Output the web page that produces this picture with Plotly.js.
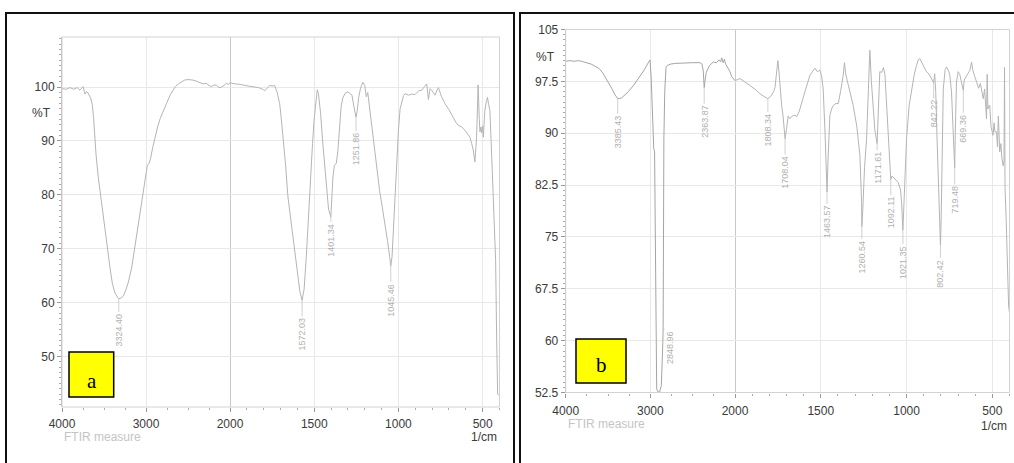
<!DOCTYPE html>
<html>
<head>
<meta charset="utf-8">
<script src="https://cdn.plot.ly/plotly-3.0.1.min.js"></script>
<style>html,body{margin:0;padding:0;background:#fff;}#chart{width:1014px;height:463px;}</style>
</head>
<body>
<div id="chart"></div>
<script>
// ---------- Spectrum a ----------
const wavenumberA = [4000,3950,3905,3860,3820,3786,3765,3750,3735,3726,3710,3690,3660,3640,3625,3615,3595,3570,3527,3490,3470,3429,3400,3370,3340,3324.4,3300,3270,3240,3210,3170,3140,3110,3080,3051,3020,3000,2985,2965,2945,2920,2893,2860,2830,2790,2754,2710,2680,2650,2615,2580,2540,2500,2476,2440,2400,2357,2320,2280,2250,2220,2190,2158,2130,2100,2070,2040,2020,2000,1970,1940,1893,1860,1830,1800,1794,1780,1764,1750,1735,1720,1705,1695,1685,1670,1656,1640,1626,1610,1596,1585,1572.03,1560,1547,1535,1521,1510,1501,1490,1482,1475,1462,1450,1438,1425,1415,1401.34,1395,1389,1380,1369,1360,1349,1340,1329,1315,1300,1285,1276,1265,1251.86,1245,1236,1225,1211,1200,1191,1182,1171,1155,1141,1125,1112,1100,1082,1065,1052,1045.46,1038,1030,1020,1010,1000,990,981,970,961,940,920,902,880,862,845,832,822,812,800,783,770,763,745,723,700,674,660,645,625,605,590,576,565,556,546,536,530,527,520,516,510,506,500,496,490,487,478,471,465,457,443,431,423,417,411,405,400];
const transmittanceA = [99.7,99.6,99.9,99.6,99.9,99.4,99.8,100.1,99.2,98.7,99.2,98.9,98.0,96.8,94.5,91.5,87.5,83.5,78.0,74.0,71.5,66.5,63.5,61.8,61.0,60.7,60.8,61.2,62.3,63.8,66.5,69.5,72.5,75.5,78.5,82.0,84.3,85.4,85.8,86.8,88.8,90.8,92.7,94.2,95.8,97.0,98.6,99.4,100.1,100.6,101.0,101.3,101.4,101.4,101.3,101.1,100.9,100.6,100.7,100.3,100.1,100.4,100.3,99.9,100.0,100.4,100.7,100.5,100.8,100.6,100.5,100.2,100.1,99.9,99.5,99.3,99.8,100.3,100.2,100.3,99.0,96.9,94.0,90.7,85.5,79.6,75.5,72.2,68.5,64.7,62.0,60.4,62.5,68.5,76.0,84.5,89.5,93.8,97.8,99.5,98.8,95.1,90.0,85.8,80.5,77.3,75.9,79.0,83.3,85.5,85.8,88.0,93.8,96.5,98.1,98.9,99.1,98.8,98.5,96.5,94.4,95.5,98.1,99.8,100.9,100.3,98.2,99.0,96.0,91.5,87.6,84.0,80.8,78.5,75.3,71.5,68.5,66.8,68.5,73.5,80.0,86.0,92.0,96.0,97.2,98.4,98.8,98.5,98.7,98.6,99.3,99.4,100.1,100.6,97.7,99.7,99.3,98.5,99.5,99.9,98.3,96.9,95.8,94.2,93.5,92.9,92.6,92.0,91.2,90.7,89.5,88.3,86.1,90.7,97.0,100.4,94.0,91.7,92.6,91.5,92.8,90.7,94.0,95.7,97.3,98.1,96.8,95.7,84.5,75.3,67.8,53.6,43.0,42.8,43.0];
const peakWavenumberA = [3324.40,1572.03,1401.34,1251.86,1045.46];
const peakTransmittanceA = [60.7,60.4,75.9,94.4,66.8];
const peakLabelA = ['3324.40','1572.03','1401.34','1251.86','1045.46'];

// ---------- Spectrum b ----------
const wavenumberB = [4000,3950,3900,3850,3811,3760,3700,3654,3600,3556,3500,3457,3420,3385.43,3340,3300,3260,3200,3142,3080,3024,3004,2990,2980,2970,2960,2950,2940,2932,2925,2910,2890,2870,2860,2852,2848.96,2845,2840,2830,2815,2800,2760,2700,2600,2500,2413,2390,2375,2368,2363.87,2355,2340,2300,2256,2220,2190,2170,2157,2140,2125,2110,2090,2075,2059,2040,2020,2000,1971,1940,1913,1880,1854,1830,1808.34,1790,1775,1767,1758,1750,1744,1737,1728,1720,1708.04,1700,1690,1680,1665,1650,1641,1625,1612,1590,1563,1545,1534,1520,1505,1495,1486,1475,1466,1463.57,1458,1452,1447,1437,1427,1412,1398,1385,1369,1362,1355,1340,1325,1311,1290,1272,1262,1260.54,1255,1245,1233,1224,1214,1205,1195,1185,1171.61,1165,1156,1145,1135,1126,1115,1097,1092.11,1085,1068,1058,1049,1035,1029,1021.35,1015,1008,1000,985,971,955,942,932,923,905,884,870,855,842.22,836,830,822,812,806,802.42,798,792,786,775,767,755,748,738,728,722,719.48,716,709,699,690,680,669.36,664,650,640,631,621,615,605,592,580,570,560,553,545,540,534,530,526,520,515,508,500,496,490,485,476,470,465,457,450,445,437,432,429,426,420,415,410,405,400];
const transmittanceB = [100.4,100.5,100.4,100.5,100.4,100.2,100.0,99.7,99.3,98.6,97.5,96.5,95.6,95.0,95.1,95.5,96.0,96.9,97.9,99.0,100.2,100.6,98.0,94.5,90.0,87.8,87.3,75.0,60.0,53.0,52.6,52.6,53.5,56.0,60.0,62.0,78.0,89.2,96.0,99.5,99.8,100.0,100.1,100.2,100.2,100.2,100.0,99.0,97.5,96.6,97.5,98.8,99.8,100.3,100.2,100.6,100.3,100.9,100.2,100.7,100.0,99.6,99.2,98.9,98.2,97.9,97.6,97.9,97.3,96.9,96.3,95.7,95.3,95.0,95.4,96.0,96.6,98.5,100.5,99.0,96.0,94.0,92.5,89.2,90.5,92.5,92.1,92.5,92.6,92.4,93.2,94.2,96.2,98.4,99.1,99.4,98.9,99.1,98.3,96.4,90.0,83.0,81.5,86.0,91.0,92.6,93.5,94.0,94.3,94.3,96.0,98.4,100.2,98.6,97.0,95.4,94.0,91.0,86.8,80.0,76.5,79.0,85.0,89.2,95.0,102.0,97.5,93.1,90.5,88.5,93.0,98.9,98.8,99.5,98.5,93.0,85.3,83.3,83.8,83.4,83.2,82.9,81.8,80.0,76.0,80.0,86.0,89.2,94.0,96.4,98.5,99.8,100.6,100.8,99.8,98.9,98.6,97.8,97.3,98.6,96.0,89.0,80.0,75.0,73.8,78.0,88.0,96.4,99.2,99.6,99.0,98.4,96.0,90.0,86.0,85.0,90.0,97.4,98.9,98.5,97.4,96.2,97.7,98.3,98.8,99.1,100.3,99.2,98.4,97.4,96.5,97.2,95.8,95.0,96.4,94.0,92.1,98.5,93.5,94.0,94.0,91.0,89.7,89.7,91.5,90.2,90.2,88.0,92.5,87.3,88.5,86.5,85.3,86.0,99.5,82.0,78.0,74.0,68.0,65.0,64.0];
const peakWavenumberB = [3385.43,2848.96,2363.87,1808.34,1708.04,1463.57,1260.54,1171.61,1092.11,1021.35,842.22,802.42,719.48,669.36];
const peakTransmittanceB = [95.0,62.0,96.6,95.0,89.2,81.5,76.5,88.5,83.3,76.0,97.3,73.8,85.0,96.2];
const peakLabelB = ['3385.43','2848.96','2363.87','1808.34','1708.04','1463.57','1260.54','1171.61','1092.11','1021.35','842.22','802.42','719.48','669.36'];

// tick labels
const xTicksHigh = [4000,3000];
const xTicksLow = [2000,1500,1000,500];
const yTicksA = [50,60,70,80,90,100];
const yTicksB = [52.5,60,67.5,75,82.5,90,97.5,105];
const yTickTextB = ['52.5','60','67.5','75','82.5','90','97.5','105'];

// ---------- styling / layout (not data) ----------
const W = 1014, H = 463;
const px = v => v / W, py = v => 1 - v / H;
const lineCol = '#b4b4b4';
const tickFont = {family: 'Liberation Sans, Arial, sans-serif', size: 12, color: '#3a3a3a'};
const gridCol = '#e8e8e8';
// pixel offsets of rotated labels relative to their peaks
const labelOffsetA = [31,34,23,32,34];
const labelOffsetB = [33,21,34,31,34,30,30,24,33,32,31,28,32,38];
const labelShiftB = [0,7,0,0,0,0,0,0,0,0,0,0,0,0];

function xAxis(domain, range, tickvals, minorDtick, anchor, standoff) {
  return {domain, range, anchor, tickvals, ticktext: tickvals.map(String),
    tickfont: tickFont, ticks: 'outside', ticklen: 4, tickcolor: '#999',
    showgrid: true, gridcolor: gridCol, gridwidth: 1, zeroline: false, showline: false,
    ticklabelstandoff: standoff,
    minor: {tickmode: 'linear', tick0: 0, dtick: minorDtick, ticks: 'outside', ticklen: 2, tickcolor: '#aaa', showgrid: false},
    fixedrange: true};
}
function yAxis(domain, range, tickvals, ticktext, minorDtick, anchor) {
  return {domain, range, anchor, tickvals, ticktext,
    tickfont: tickFont, ticks: 'outside', ticklen: 4, tickcolor: '#999',
    showgrid: true, gridcolor: gridCol, zeroline: false, showline: true, linecolor: '#bbb', linewidth: 1,
    minor: {tickmode: 'linear', tick0: 0, dtick: minorDtick, ticks: 'outside', ticklen: 2, tickcolor: '#aaa', showgrid: false},
    fixedrange: true};
}

const dA = [px(62), px(230), px(499.5)];
const dB = [px(565.7), px(735), px(1009.5)];
const yDomA = [py(407), py(37)];
const yDomB = [py(392.5), py(29.5)];

const traces = [
  {x: wavenumberA, y: transmittanceA, xaxis: 'x', yaxis: 'y', mode: 'lines', line: {color: lineCol, width: 1}, hoverinfo: 'skip'},
  {x: wavenumberA, y: transmittanceA, xaxis: 'x2', yaxis: 'y', mode: 'lines', line: {color: lineCol, width: 1}, hoverinfo: 'skip'},
  {x: wavenumberB, y: transmittanceB, xaxis: 'x3', yaxis: 'y2', mode: 'lines', line: {color: '#a4a4a4', width: 1}, hoverinfo: 'skip'},
  {x: wavenumberB, y: transmittanceB, xaxis: 'x4', yaxis: 'y2', mode: 'lines', line: {color: lineCol, width: 1}, hoverinfo: 'skip'}
];

const annotations = [];
function peakLabels(xs, ys, labels, offs, shifts, hiAxis, loAxis, yax) {
  xs.forEach((w, i) => {
    annotations.push({x: w, y: ys[i], xref: w > 2000 ? hiAxis : loAxis, yref: yax,
      text: labels[i], textangle: -90, showarrow: true, arrowhead: 0, arrowwidth: 0.8,
      arrowcolor: '#c4c4c4', standoff: 0, startstandoff: 0, ax: shifts[i], ay: offs[i],
      font: {family: 'Liberation Sans, Arial, sans-serif', size: 9, color: '#b0b0b0'}});
  });
}
peakLabels(peakWavenumberA, peakTransmittanceA, peakLabelA, labelOffsetA, labelOffsetA.map(() => 0), 'x', 'x2', 'y');
peakLabels(peakWavenumberB, peakTransmittanceB, peakLabelB, labelOffsetB, labelShiftB, 'x3', 'x4', 'y2');

const txt = (x, y, text, xanchor, font) => ({x, y, xref: 'paper', yref: 'paper', text, showarrow: false, xanchor, yanchor: 'middle', font});
const lbl = {family: 'Liberation Sans, Arial, sans-serif', size: 12, color: '#3a3a3a'};
const ftir = {family: 'Liberation Sans, Arial, sans-serif', size: 12, color: '#c4c4c4'};
const serif = {family: 'Liberation Serif, DejaVu Serif, serif', size: 21, color: '#000'};
annotations.push(
  txt(px(53), py(113), '%T', 'right', lbl),
  txt(px(557), py(57), '%T', 'right', lbl),
  txt(px(62), py(437), 'FTIR measure', 'left', ftir),
  txt(px(566), py(424), 'FTIR measure', 'left', ftir),
  txt(px(499), py(437), '1/cm', 'right', lbl),
  txt(px(1009), py(426), '1/cm', 'right', lbl),
  txt(px(91.5), py(381), 'a', 'center', serif),
  txt(px(601), py(365), 'b', 'center', serif)
);

const rect = (x0, y0, x1, y1, line, fill) => ({type: 'rect', xref: 'paper', yref: 'paper', x0, y0, x1, y1, line, fillcolor: fill || 'rgba(0,0,0,0)', layer: 'above'});
const shapes = [
  rect(dA[0], yDomA[0], dA[2], yDomA[1], {color: '#d2d2d2', width: 1}),
  rect(dB[0], yDomB[0], dB[2], yDomB[1], {color: '#d2d2d2', width: 1}),
  {type: 'line', xref: 'x2', yref: 'y domain', x0: 2000, x1: 2000, y0: 0, y1: 1, line: {color: '#bcbcbc', width: 1.6}, layer: 'below'},
  {type: 'line', xref: 'x4', yref: 'y2 domain', x0: 2000, x1: 2000, y0: 0, y1: 1, line: {color: '#bcbcbc', width: 1.6}, layer: 'below'},
  rect(px(6), -0.05, px(514), py(13), {color: '#111', width: 2}),
  rect(px(520), -0.05, 1.05, py(13), {color: '#111', width: 2}),
  rect(px(69), py(397), px(113.7), py(352), {color: '#000', width: 1.5}, '#ffff00'),
  rect(px(576), py(383), px(626), py(339), {color: '#000', width: 1.5}, '#ffff00')
];

const layout = {
  width: W, height: H, margin: {l: 0, r: 0, t: 0, b: 0, pad: 0},
  paper_bgcolor: '#fff', plot_bgcolor: '#fff', showlegend: false,
  font: {family: 'Liberation Sans, Arial, sans-serif'},
  xaxis: xAxis([dA[0], dA[1]], [4000, 2000], xTicksHigh, 250, 'y', 2),
  xaxis2: xAxis([dA[1], dA[2]], [2000, 400], xTicksLow, 100, 'y', 2),
  xaxis3: xAxis([dB[0], dB[1]], [4000, 2000], xTicksHigh, 250, 'y2', 3),
  xaxis4: xAxis([dB[1], dB[2]], [2000, 400], xTicksLow, 100, 'y2', 3),
  yaxis: yAxis(yDomA, [40.6, 109.3], yTicksA, yTicksA.map(String), 1, 'x'),
  yaxis2: yAxis(yDomB, [52.5, 105], yTicksB, yTickTextB, 0.75, 'x3'),
  annotations, shapes
};

Plotly.newPlot('chart', traces, layout, {displayModeBar: false, staticPlot: true});
</script>
</body>
</html>
